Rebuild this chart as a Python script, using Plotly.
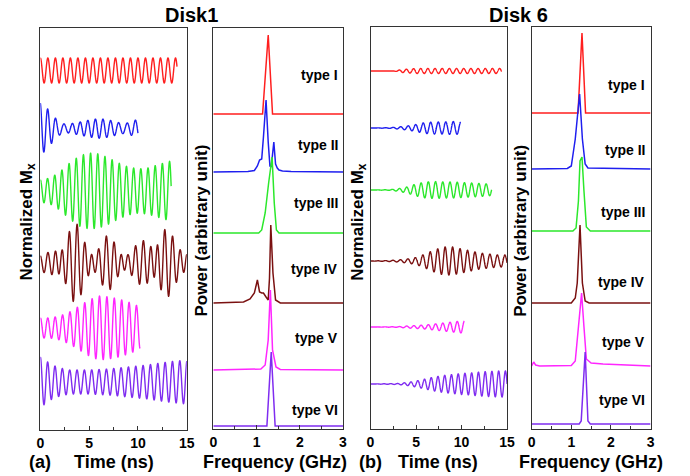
import numpy as np
import plotly.graph_objects as go

W, H = 690, 476
FONT = "Liberation Sans, Arial, sans-serif"

types = ["type I", "type II", "type III", "type IV", "type V", "type VI"]
colors = ["#ff1f1f", "#1f1fef", "#2be82b", "#7a1010", "#ff26ff", "#7f2cf0"]

# ---------------- Disk 1 : time traces (envelopes) ----------------
d1_f_main = [1.30, 1.24, 1.36, 1.33, 1.32, 1.33]
d1_f_side = [0.0, 1.40, 0.0, 1.02, 0.0, 0.0]
d1_side_frac = [0.0, 0.30, 0.0, 0.30, 0.0, 0.0]
d1_t_end = [14.0, 10.0, 13.4, 15.0, 10.2, 15.0]
d1_offset = [35.95, 30.15, 23.9, 16.7, 10.2, 4.8]
d1_env_t = [
    [0, 14.0],
    [0, 0.5, 1, 1.5, 2, 2.5, 3, 4, 5, 6, 7, 8, 9, 10],
    [0, 1, 2, 3, 4, 5, 6, 7, 8, 9, 10, 11, 12, 13, 13.4],
    [0, 1, 1.5, 2, 2.5, 3, 3.5, 4, 4.5, 5, 5.5, 6, 6.5, 7, 7.5, 8, 8.5, 9, 9.5, 10,
     10.5, 11, 11.5, 12, 12.5, 13, 13.5, 14, 14.5, 15],
    [0, 1, 2, 3, 4, 5, 6, 7, 8, 9, 10, 10.2],
    [0, 0.5, 1, 2, 3, 5, 7, 9, 11, 13, 15],
]
d1_env_a = [
    [1.25, 1.25],
    [2.8, 2.7, 2.4, 2.0, 1.5, 1.1, 0.9, 0.8, 0.85, 1.0, 1.1, 1.25, 1.3, 1.3],
    [1.1, 1.3, 1.9, 2.8, 3.5, 3.8, 3.7, 3.3, 2.8, 2.4, 2.2, 2.3, 2.6, 2.9, 3.0],
    [0.8, 1.2, 2.0, 2.8, 3.2, 3.8, 4.0, 3.8, 3.0, 2.5, 1.8, 2.0, 2.6, 2.8, 2.6, 2.2,
     1.8, 1.4, 1.6, 2.0, 2.4, 2.8, 3.4, 3.8, 4.0, 3.6, 2.8, 2.2, 2.0, 2.2],
    [1.0, 1.0, 1.2, 1.6, 2.2, 2.8, 3.2, 3.1, 2.9, 2.6, 2.2, 2.1],
    [2.5, 2.2, 1.8, 1.4, 1.2, 1.2, 1.3, 1.5, 1.7, 2.0, 2.2],
]

# ---------------- Disk 6 : time traces ----------------
d6_f_main = [1.27, 1.21, 1.26, 1.22, 1.26, 1.35]
d6_t_end = [14.4, 9.9, 13.3, 15.0, 10.3, 15.0]
d6_offset = [35.8, 30.1, 23.9, 16.8, 10.2, 4.5]
d6_env_t = [
    [0, 2.5, 3.5, 5, 14.4],
    [0, 2, 3, 4, 5, 6, 7, 8, 9, 9.9],
    [0, 2, 3, 4, 5, 6, 7, 8, 9, 10, 11, 12, 13, 13.3],
    [0, 2, 3, 4, 5, 6, 7, 8, 9, 10, 11, 12, 13, 14, 15],
    [0, 3, 4, 5, 6, 7, 8, 9, 10, 10.3],
    [0, 3, 4, 5, 6, 7, 8, 9, 10, 11, 12, 13, 14, 15],
]
d6_env_a = [
    [0.0, 0.0, 0.15, 0.25, 0.25],
    [0.0, 0.03, 0.1, 0.2, 0.35, 0.55, 0.6, 0.6, 0.65, 0.6],
    [0.0, 0.03, 0.12, 0.3, 0.6, 0.8, 0.85, 0.8, 0.8, 0.75, 0.7, 0.65, 0.6, 0.5],
    [0.0, 0.05, 0.1, 0.2, 0.35, 0.7, 1.1, 1.4, 1.4, 1.2, 1.0, 0.8, 0.7, 0.6, 0.6],
    [0.0, 0.03, 0.1, 0.15, 0.2, 0.3, 0.4, 0.5, 0.6, 0.6],
    [0.0, 0.05, 0.15, 0.3, 0.5, 0.7, 0.85, 0.95, 1.05, 1.1, 1.2, 1.25, 1.3, 1.3],
]

# ---------------- Disk 1 : spectra (GHz, power above baseline) ----------------
d1_base = [31.5, 25.7, 19.6, 12.6, 5.9, 0.3]
d1_spec_f = [
    [0, 1.14, 1.27, 1.37, 3],
    [0, 0.8, 0.95, 1.02, 1.07, 1.12, 1.16, 1.22, 1.27, 1.31, 1.34, 1.40, 1.44, 1.48, 1.52, 1.6, 1.8, 3],
    [0, 1.05, 1.12, 1.2, 1.28, 1.36, 1.41, 1.46, 1.52, 3],
    [0, 0.7, 0.85, 0.95, 1.02, 1.07, 1.12, 1.16, 1.22, 1.27, 1.30, 1.33, 1.38, 1.44, 1.55, 3],
    [0, 1.1, 1.2, 1.27, 1.32, 1.37, 1.45, 1.55, 3],
    [0, 1.24, 1.34, 1.43, 3],
]
d1_spec_p = [
    [0, 0, 7.9, 0, 0],
    [0, 0.05, 0.15, 0.6, 1.2, 1.3, 3.5, 7.2, 3.0, 0.6, 0.5, 3.0, 0.8, 0.4, 0.2, 0.1, 0.05, 0],
    [0, 0, 0.3, 2.0, 5.0, 7.6, 3.0, 0.3, 0, 0],
    [0, 0.1, 0.4, 1.0, 2.3, 1.1, 1.0, 1.0, 0.6, 0.3, 2.5, 7.8, 3.0, 0.3, 0, 0],
    [0, 0.1, 0.5, 3.0, 8.0, 2.0, 0.3, 0.05, 0],
    [0, 0, 7.4, 0, 0],
]

# ---------------- Disk 6 : spectra ----------------
d6_base = [31.6, 26.0, 19.8, 12.6, 6.2, 0.5]
d6_spec_f = [
    [0, 1.17, 1.27, 1.36, 3],
    [0, 0.9, 1.0, 1.1, 1.21, 1.28, 1.35, 1.42, 3],
    [0, 1.04, 1.12, 1.18, 1.22, 1.27, 1.32, 1.38, 1.48, 3],
    [0, 1.0, 1.1, 1.15, 1.22, 1.28, 1.35, 1.45, 3],
    [0, 0.05, 0.1, 0.2, 1.0, 1.1, 1.18, 1.26, 1.32, 1.38, 1.5, 1.8, 3],
    [0, 1.2, 1.25, 1.35, 1.42, 1.48, 3],
]
d6_spec_p = [
    [0, 0, 8.0, 0, 0],
    [0, 0.05, 0.3, 3.0, 7.5, 3.0, 0.5, 0.1, 0],
    [0, 0, 0.3, 3.0, 7.0, 7.4, 4.0, 0.4, 0, 0],
    [0, 0, 0.5, 2.0, 7.8, 2.0, 0.2, 0, 0],
    [0.1, 0.5, 0.2, 0.1, 0.15, 0.6, 4.0, 7.4, 4.0, 0.8, 0.4, 0.3, 0.1],
    [0, 0, 0.3, 7.2, 0.3, 0, 0],
]

d1_label_y = [35.4, 28.4, 22.6, 16.0, 9.1, 1.9]
d6_label_y = [34.4, 27.9, 21.7, 14.7, 8.7, 2.9]


def px_x(p):
    return p / W


def px_y(p):
    return 1 - p / H


fig = go.Figure()


def add_time(env_t, env_a, f_main, t_end, offset, xa, ya, f_side=None, side=None):
    for i in range(6):
        t = np.linspace(0, t_end[i], 2400)
        env = np.interp(t, env_t[i], env_a[i])
        a = side[i] if side else 0.0
        fs = f_side[i] if f_side else 0.0
        wave = (1 - a) * np.cos(2 * np.pi * f_main[i] * t) + a * np.cos(2 * np.pi * fs * t + 0.8)
        fig.add_trace(go.Scatter(x=t, y=offset[i] + env * wave, mode="lines",
                                 line=dict(color=colors[i], width=1.4, simplify=False),
                                 xaxis=xa, yaxis=ya, showlegend=False, hoverinfo="skip"))


def add_spec(sf, sp, base, xa, ya):
    for i in range(6):
        y = np.array(sp[i]) + base[i]
        fig.add_trace(go.Scatter(x=sf[i], y=y, mode="lines",
                                 line=dict(color=colors[i], width=1.5, simplify=False),
                                 xaxis=xa, yaxis=ya, showlegend=False, hoverinfo="skip"))


add_time(d1_env_t, d1_env_a, d1_f_main, d1_t_end, d1_offset, "x", "y", d1_f_side, d1_side_frac)
add_spec(d1_spec_f, d1_spec_p, d1_base, "x2", "y2")
add_time(d6_env_t, d6_env_a, d6_f_main, d6_t_end, d6_offset, "x3", "y3")
add_spec(d6_spec_f, d6_spec_p, d6_base, "x4", "y4")

AX = "#333333"
tickfont = dict(family=FONT, size=14, color="black", weight="bold")


def xaxis(dom, rng, tv, mdt, anchor):
    return dict(domain=[px_x(dom[0]), px_x(dom[1])], range=rng, anchor=anchor,
                showline=True, mirror=True, linecolor=AX, linewidth=1.3,
                ticks="inside", ticklen=4, tickcolor=AX, tickwidth=1,
                tickvals=tv, ticktext=[str(v) for v in tv], tickfont=tickfont,
                showgrid=False, zeroline=False, fixedrange=True,
                minor=dict(ticks="inside", ticklen=2.5, dtick=mdt, tickcolor=AX, showgrid=False))


def yaxis(dom, rng, anchor):
    return dict(domain=[px_y(dom[1]), px_y(dom[0])], range=rng, anchor=anchor,
                showline=True, mirror=True, linecolor=AX, linewidth=1.3,
                ticks="", showticklabels=False, showgrid=False, zeroline=False, fixedrange=True)


fig.update_layout(
    width=W, height=H, margin=dict(l=0, r=0, t=0, b=0),
    paper_bgcolor="white", plot_bgcolor="white", showlegend=False,
    xaxis=xaxis((37, 186), [0, 15], [0, 5, 10, 15], 2.5, "y"),
    yaxis=yaxis((28, 430), [0, 40.2], "x"),
    xaxis2=xaxis((213, 345), [0, 3], [0, 1, 2, 3], 0.5, "y2"),
    yaxis2=yaxis((28, 429), [0, 40.1], "x2"),
    xaxis3=xaxis((373, 512), [0, 15], [0, 5, 10, 15], 2.5, "y3"),
    yaxis3=yaxis((27, 429), [0, 40.2], "x3"),
    xaxis4=xaxis((537, 658), [0, 3], [0, 1, 2, 3], 0.5, "y4"),
    yaxis4=yaxis((27, 429), [0, 40.2], "x4"),
)

ann = []


def txt(text, x, y, size, angle=0, xanchor="center"):
    ann.append(dict(text=text, x=px_x(x), y=px_y(y), xref="paper", yref="paper",
                    showarrow=False, textangle=angle, xanchor=xanchor, yanchor="middle",
                    font=dict(family=FONT, size=size, color="black", weight="bold")))


txt("Disk1", 191, 15, 20)
txt("Disk 6", 524, 15, 20)
txt("Normalized M<sub>x</sub>", 24, 222, 17, -90)
txt("Power (arbitrary unit)", 200, 231, 17, -90)
txt("Normalized M<sub>x</sub>", 361, 222, 17, -90)
txt("Power (arbitrary unit)", 525, 231, 17, -90)
txt("(a)", 37, 462, 18)
txt("Time (ns)", 112, 462, 18)
txt("Frequency (GHz)", 276, 462, 18)
txt("(b)", 373, 462, 18)
txt("Time (ns)", 442, 462, 18)
txt("Frequency (GHz)", 597, 462, 18)

for i in range(6):
    ann.append(dict(text=types[i], x=2.92, y=d1_label_y[i], xref="x2", yref="y2",
                    showarrow=False, xanchor="right", yanchor="middle",
                    font=dict(family=FONT, size=14, color="black", weight="bold")))
    ann.append(dict(text=types[i], x=2.9, y=d6_label_y[i], xref="x4", yref="y4",
                    showarrow=False, xanchor="right", yanchor="middle",
                    font=dict(family=FONT, size=14, color="black", weight="bold")))

fig.update_layout(annotations=ann)
fig.write_html("out.html")
